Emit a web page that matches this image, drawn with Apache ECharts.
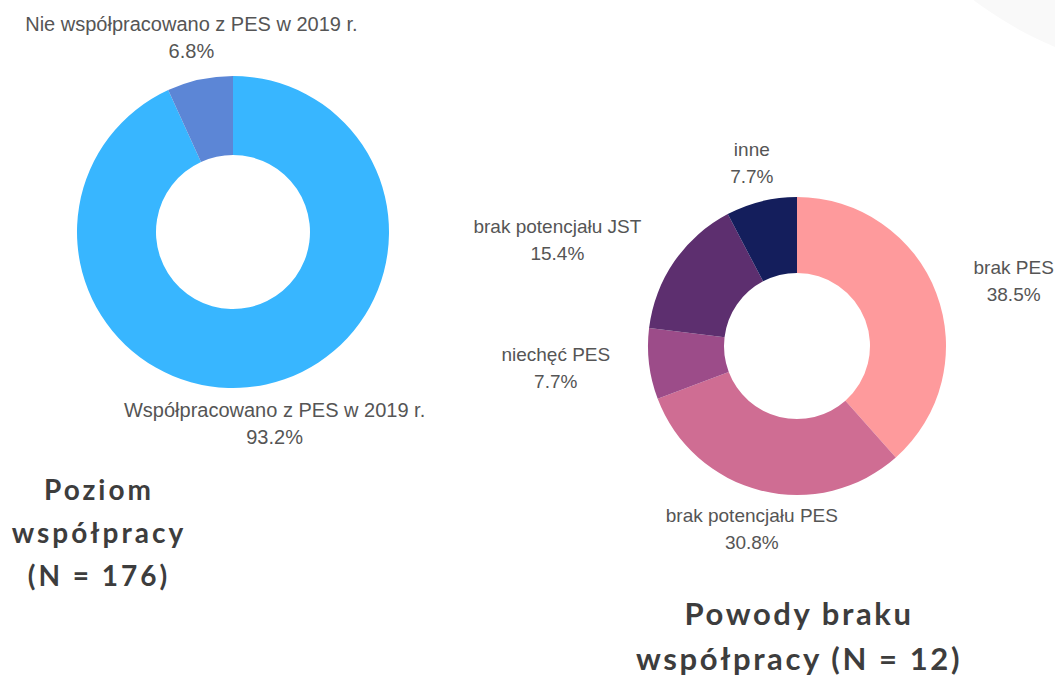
<!DOCTYPE html>
<html>
<head>
<meta charset="utf-8">
<script src="https://cdn.jsdelivr.net/npm/echarts@6/dist/echarts.min.js"></script>
<style>
  html, body { margin: 0; padding: 0; background: #fff; }
  #main { width: 1055px; height: 675px; }
  /* the titles are letter-spaced in the original */
  #main text[style*="Lato"] { letter-spacing: 3px; }
  #main text[style*="Lato"][style*="31px"] { letter-spacing: 2.6px; }
</style>
</head>
<body>
<div id="main"></div>
<script>
// poziom współpracy (N = 176)
var coopNames = ['Współpracowano z PES w 2019 r.', 'Nie współpracowano z PES w 2019 r.'];
var coopValues = [164, 12];
var coopColors = ['#38b6ff', '#5c86d6'];

// powody braku współpracy
var reasonNames = ['brak PES', 'brak potencjału PES', 'niechęć PES', 'brak potencjału JST', 'inne'];
var reasonValues = [5, 4, 1, 2, 1];
var reasonColors = ['#fe9a9c', '#cf6d93', '#9c4c89', '#5d2f6f', '#141e5c'];

var coopCenter = [233, 232], coopR = 156;
var reasonCenter = [797, 346], reasonR = 149;
// small extra shifts for labels on the sides
var coopNudge = [[0, 0], [0, -3]];
var reasonNudge = [[26, 7], [0, 0], [-27, -4], [-68, 12], [0, 0]];

function sum(arr) {
    return arr.reduce(function (a, b) { return a + b; }, 0);
}

function makeLayout(values, center, r, nudge) {
    var total = sum(values);
    return function (params) {
        var i = params.dataIndex;
        var before = 0;
        for (var k = 0; k < i; k++) before += values[k];
        var mid = (before + values[i] / 2) / total * Math.PI * 2;
        var dx = Math.sin(mid), dy = -Math.cos(mid);
        var a = params.labelRect.width / 2, b = params.labelRect.height / 2;
        var t = Math.min(Math.abs(dx) > 1e-6 ? a / Math.abs(dx) : 1e9, Math.abs(dy) > 1e-6 ? b / Math.abs(dy) : 1e9);
        var d = r + 12 + t;
        return {
            x: center[0] + dx * d + nudge[i][0],
            y: center[1] + dy * d + nudge[i][1],
            align: 'center',
            verticalAlign: 'middle'
        };
    };
}

function makeLabel(values, size) {
    var total = sum(values);
    return {
        show: true,
        position: 'outside',
        formatter: function (p) {
            return p.name + '\n' + (p.value / total * 100).toFixed(1) + '%';
        },
        fontFamily: 'Liberation Sans',
        fontSize: size,
        lineHeight: 27,
        color: '#555555'
    };
}

function pieData(names, values, colors) {
    return names.map(function (n, i) {
        return { name: n, value: values[i], itemStyle: { color: colors[i] } };
    });
}

var myChart = echarts.init(document.getElementById('main'), null, { renderer: 'svg' });
var option = {
    backgroundColor: '#ffffff',
    animation: false,
    graphic: [{
        type: 'circle',
        shape: { cx: 1200, cy: -300, r: 376 },
        style: { fill: '#f9f9f9' },
        z: -10
    }],
    title: [{
        text: 'Poziom\nwspółpracy\n(N = 176)',
        left: 94,
        top: 462,
        textAlign: 'center',
        textStyle: { fontFamily: 'Lato', fontWeight: 'bold', fontSize: 28, lineHeight: 43, color: '#3d3d3d' }
    }, {
        text: 'Powody braku\nwspółpracy (N = 12)',
        left: 794,
        top: 585,
        textAlign: 'center',
        textStyle: { fontFamily: 'Lato', fontWeight: 'bold', fontSize: 31, lineHeight: 45, color: '#3d3d3d' }
    }],
    series: [{
        type: 'pie',
        center: coopCenter,
        radius: [77, coopR],
        startAngle: 90,
        clockwise: true,
        avoidLabelOverlap: false,
        label: makeLabel(coopValues, 20),
        labelLine: { show: false },
        labelLayout: makeLayout(coopValues, coopCenter, coopR, coopNudge),
        emphasis: { disabled: true },
        data: pieData(coopNames, coopValues, coopColors)
    }, {
        type: 'pie',
        center: reasonCenter,
        radius: [73, reasonR],
        startAngle: 90,
        clockwise: true,
        avoidLabelOverlap: false,
        label: makeLabel(reasonValues, 19),
        labelLine: { show: false },
        labelLayout: makeLayout(reasonValues, reasonCenter, reasonR, reasonNudge),
        emphasis: { disabled: true },
        data: pieData(reasonNames, reasonValues, reasonColors)
    }]
};
myChart.setOption(option);
</script>
</body>
</html>
